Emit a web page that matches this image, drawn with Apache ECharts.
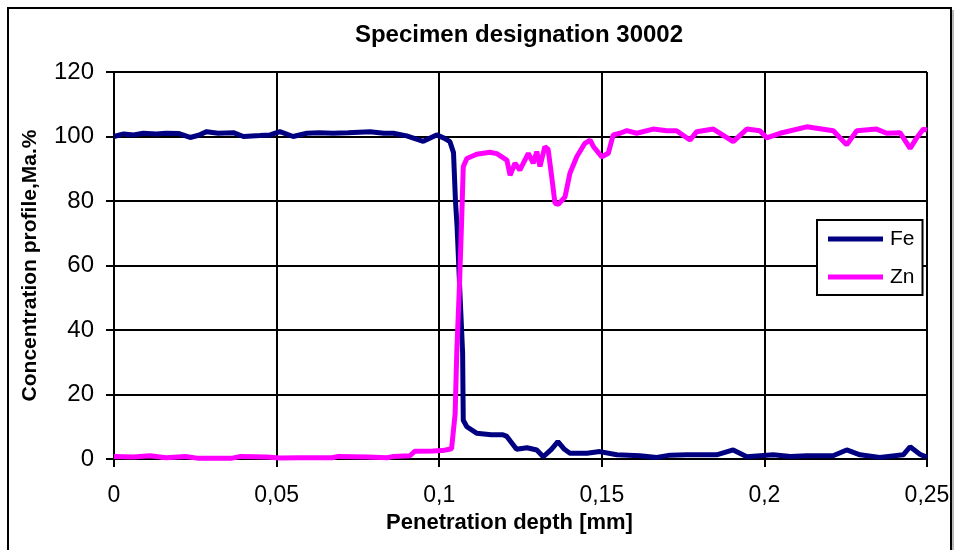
<!DOCTYPE html>
<html>
<head>
<meta charset="utf-8">
<title>Specimen designation 30002</title>
<script src="https://cdn.jsdelivr.net/npm/echarts@6/dist/echarts.min.js"></script>
<style>
  html, body { margin: 0; padding: 0; background: #ffffff; }
  #chart { width: 954px; height: 550px; }
</style>
</head>
<body>
<div id="chart"></div>
<script>
// Penetration depth (mm) and concentration (Ma.%) for each element
const feDepth = [0.000, 0.003, 0.006, 0.009, 0.013, 0.016, 0.020, 0.0234, 0.026, 0.0285, 0.032, 0.0367, 0.0398, 0.0449, 0.048, 0.051, 0.0551, 0.0593, 0.063, 0.0674, 0.072, 0.0787, 0.083, 0.0859, 0.090, 0.0951, 0.0992, 0.1015, 0.1033, 0.1044, 0.1050, 0.1055, 0.1064, 0.1072, 0.1074, 0.1085, 0.1115, 0.1160, 0.1196, 0.1208, 0.1238, 0.1270, 0.1300, 0.1320, 0.1345, 0.1365, 0.1385, 0.1402, 0.1454, 0.1494, 0.1546, 0.1617, 0.1669, 0.1710, 0.1761, 0.1853, 0.1904, 0.1946, 0.2027, 0.2080, 0.2130, 0.2211, 0.2253, 0.2294, 0.2355, 0.2427, 0.2448, 0.2478, 0.2500];
const feConc = [100.0, 100.8, 100.5, 101.0, 100.8, 101.0, 100.9, 99.7, 100.4, 101.5, 101.0, 101.2, 100.0, 100.3, 100.5, 101.5, 100.0, 101.0, 101.2, 101.0, 101.2, 101.5, 101.0, 101.0, 100.2, 98.5, 100.5, 99.5, 98.4, 95.0, 80.0, 72.0, 51.0, 33.0, 12.0, 10.0, 8.0, 7.5, 7.5, 7.0, 3.0, 3.5, 2.8, 0.7, 3.0, 5.4, 3.0, 1.8, 1.8, 2.3, 1.3, 1.0, 0.5, 1.2, 1.3, 1.3, 2.8, 0.7, 1.3, 0.8, 1.0, 1.0, 2.8, 1.3, 0.5, 1.3, 3.8, 1.5, 0.5];

const znDepth = [0.000, 0.006, 0.011, 0.016, 0.022, 0.026, 0.036, 0.039, 0.047, 0.051, 0.057, 0.067, 0.069, 0.078, 0.084, 0.086, 0.091, 0.0925, 0.098, 0.1010, 0.1038, 0.1049, 0.1054, 0.1062, 0.1069, 0.1074, 0.1085, 0.1115, 0.1156, 0.1177, 0.1208, 0.1218, 0.1233, 0.1248, 0.1260, 0.1274, 0.1289, 0.1300, 0.1310, 0.1325, 0.1335, 0.1346, 0.1356, 0.1367, 0.1387, 0.1402, 0.1423, 0.1448, 0.1464, 0.1474, 0.1500, 0.1520, 0.1535, 0.1556, 0.1577, 0.1607, 0.1658, 0.1700, 0.1730, 0.1771, 0.1792, 0.1843, 0.1904, 0.1946, 0.1986, 0.2007, 0.2048, 0.2130, 0.2212, 0.2253, 0.2284, 0.2345, 0.2376, 0.2417, 0.2448, 0.2468, 0.2489, 0.2500];
const znConc = [0.8, 0.6, 1.0, 0.4, 0.8, 0.2, 0.2, 0.8, 0.6, 0.3, 0.4, 0.4, 0.8, 0.6, 0.4, 0.8, 1.0, 2.4, 2.5, 2.6, 3.2, 14.0, 33.0, 53.0, 74.0, 90.6, 93.2, 94.5, 95.1, 94.7, 92.7, 88.0, 91.7, 89.6, 92.0, 94.8, 91.7, 95.3, 90.7, 96.9, 96.0, 87.5, 79.3, 79.0, 81.3, 88.6, 93.7, 97.9, 98.9, 96.9, 93.7, 94.8, 100.5, 101.0, 101.8, 101.0, 102.3, 101.8, 101.8, 98.9, 101.5, 102.3, 98.4, 102.3, 101.8, 99.6, 101.0, 103.0, 101.8, 97.4, 101.8, 102.3, 101.0, 101.2, 96.3, 99.5, 102.3, 102.0];

// Axis tick settings
const xTicks = { min: 0, max: 0.25, step: 0.05 };
const yTicks = { min: 0, max: 120, step: 20 };

const pairs = (xs, ys) => xs.map((x, i) => [x, ys[i]]);

const chart = echarts.init(document.getElementById('chart'), null, { renderer: 'canvas' });

const fontFamily = '"Liberation Sans", Arial, sans-serif';

chart.setOption({
  animation: false,
  backgroundColor: '#ffffff',
  textStyle: { fontFamily: fontFamily },
  title: {
    text: 'Specimen designation 30002',
    left: 514,
    textAlign: 'center',
    top: 18,
    textStyle: { fontFamily: fontFamily, fontSize: 24, fontWeight: 'bold', color: '#000' }
  },
  graphic: [
    {
      type: 'rect',
      shape: { x: 8, y: 8, width: 943, height: 570 },
      style: { fill: null, stroke: '#000', lineWidth: 2 },
      silent: true,
      z: 100
    },
    {
      type: 'line',
      shape: { x1: 953, y1: 10, x2: 953, y2: 560 },
      style: { stroke: '#a0a0a0', lineWidth: 1.5 },
      silent: true
    }
  ],
  legend: {
    orient: 'vertical',
    left: 817,
    top: 220,
    backgroundColor: '#ffffff',
    borderColor: '#000',
    borderWidth: 2,
    borderRadius: 0,
    padding: [7, 8, 6, 11],
    itemGap: 14,
    itemWidth: 55,
    itemHeight: 5,
    icon: 'rect',
    textStyle: { fontFamily: fontFamily, fontSize: 21, color: '#000', lineHeight: 24, padding: [0, 0, 0, 2] },
    data: ['Fe', 'Zn']
  },
  grid: { left: 114, right: 27, top: 72, bottom: 91, containLabel: false },
  xAxis: {
    type: 'value',
    min: xTicks.min,
    max: xTicks.max,
    interval: xTicks.step,
    name: 'Penetration depth [mm]',
    nameLocation: 'middle',
    nameGap: 52,
    nameTextStyle: { fontFamily: fontFamily, fontSize: 22, fontWeight: 'bold', color: '#000', padding: [0, 22, 0, 0] },
    axisLine: { onZero: false, lineStyle: { color: '#000', width: 2 } },
    axisTick: { show: true, inside: false, length: 8, lineStyle: { color: '#000', width: 2 } },
    axisLabel: {
      margin: 25,
      fontSize: 23,
      color: '#000',
      fontFamily: fontFamily,
      formatter: v => String(Math.round(v * 100) / 100).replace('.', ',')
    },
    splitLine: { show: true, lineStyle: { color: '#000', width: 2 } }
  },
  yAxis: {
    type: 'value',
    min: yTicks.min,
    max: yTicks.max,
    interval: yTicks.step,
    name: 'Concentration profile,Ma.%',
    nameLocation: 'middle',
    nameRotate: 90,
    nameGap: 73,
    nameTextStyle: { fontFamily: fontFamily, fontSize: 21, fontWeight: 'bold', color: '#000' },
    axisLine: { show: true, lineStyle: { color: '#000', width: 2 } },
    axisTick: { show: true, inside: false, length: 8, lineStyle: { color: '#000', width: 2 } },
    axisLabel: { margin: 20, fontSize: 24, color: '#000', fontFamily: fontFamily },
    splitLine: { show: true, lineStyle: { color: '#000', width: 2 } }
  },
  series: [
    {
      name: 'Fe',
      type: 'line',
      data: pairs(feDepth, feConc),
      showSymbol: false,
      color: '#000080',
      lineStyle: { color: '#000080', width: 5 },
      z: 3
    },
    {
      name: 'Zn',
      type: 'line',
      data: pairs(znDepth, znConc),
      showSymbol: false,
      color: '#ff00ff',
      lineStyle: { color: '#ff00ff', width: 5 },
      z: 4
    }
  ]
});
</script>
</body>
</html>
